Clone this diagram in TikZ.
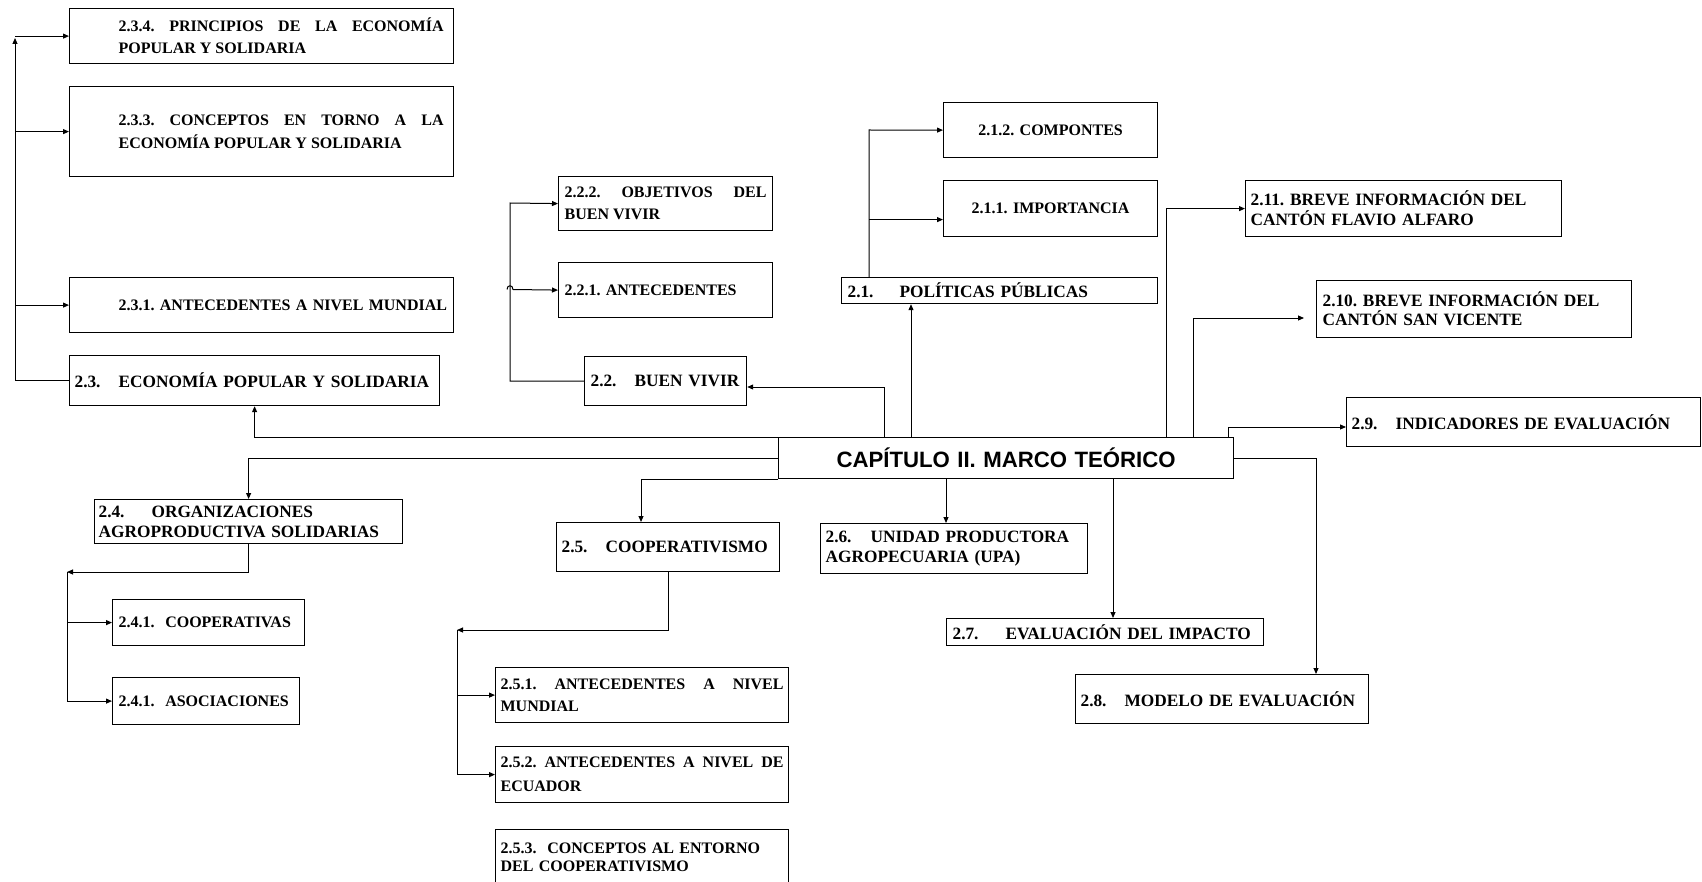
\documentclass[tikz,border=0pt]{standalone}
\usepackage{fontspec}
\setmainfont{Liberation Serif}
\newfontfamily\arialfont{Liberation Sans}
\usetikzlibrary{arrows.meta}
\frenchspacing
\hyphenpenalty=10000

\begin{document}
\begin{tikzpicture}[x=0.5pt,y=-0.5pt,
  box/.style={draw, line width=\lwidth, anchor=north west, inner ysep=0pt, inner xsep=2.5pt, align=left},
  headbox/.style={box, font=\bfseries\fontsize{8.65}{10}\selectfont},
  subbox/.style={box, font=\bfseries\fontsize{8}{#1}\selectfont},
  subbox/.default=11,
  conn/.style={line width=\cwidth, -{Triangle[length=3pt,width=2.5pt]}}]

  % sizes in px of the page, 1px = 0.5pt
  \def\lwidth{0.6pt}
  \def\cwidth{0.5pt}
  \def\tabnum#1#2{\makebox[#1][l]{#2}}
  \def\indented#1{\hspace*{19.5pt}\parbox{162.5pt}{\everypar{}\leftskip=0pt\rightskip=0pt\parfillskip=0pt plus 1fil\hyphenpenalty=10000\relax #1}}

  \useasboundingbox (0,0) rectangle (1702,882);
  \clip (0,0) rectangle (1702,882);

  % centre node
  \node[box, font=\arialfont\bfseries\fontsize{11.1}{13}\selectfont, align=center,
        minimum width=227.5pt, minimum height=20.5pt, text width=222.5pt] (mt) at (778,437) {CAPÍTULO II. MARCO TEÓRICO};

  % 2.3 block
  \node[subbox, inner xsep=5pt, text width=182pt, minimum height=27.5pt, align=justify] (s234) at (69,8)
    {\indented{2.3.4. PRINCIPIOS DE LA ECONOMÍA POPULAR Y SOLIDARIA}};
  \node[subbox=11.5, inner xsep=5pt, text width=182pt, minimum height=45pt, align=justify] (s233) at (69,86)
    {\indented{\baselineskip=11.5pt 2.3.3. CONCEPTOS EN TORNO A LA ECONOMÍA POPULAR Y SOLIDARIA}};
  \node[subbox, inner xsep=5pt, text width=182pt, minimum height=27.5pt] (s231) at (69,277)
    {\hspace*{19.5pt}\mbox{2.3.1. ANTECEDENTES A NIVEL MUNDIAL}};
  \node[headbox, text width=180pt, minimum height=25pt] (s23) at (69,355)
    {\tabnum{22pt}{2.3.}ECONOMÍA POPULAR Y SOLIDARIA};

  % 2.2 block
  \node[subbox, inner xsep=3pt, text width=101pt, minimum height=27pt, align=justify] (s222) at (558,176)
    {2.2.2. OBJETIVOS DEL BUEN VIVIR};
  \node[subbox, inner xsep=3pt, text width=101pt, minimum height=27.5pt] (s221) at (558,262)
    {2.2.1. ANTECEDENTES};
  \node[headbox, inner xsep=3pt, text width=75pt, minimum height=24.5pt] (s22) at (584,356)
    {\tabnum{22pt}{2.2.}BUEN VIVIR};

  % 2.1 block
  \node[subbox, inner xsep=3pt, text width=101pt, minimum height=27.5pt, align=center] (s212) at (943,102)
    {2.1.2. COMPONTES};
  \node[subbox, inner xsep=3pt, text width=101pt, minimum height=28pt, align=center] (s211) at (943,180)
    {2.1.1. IMPORTANCIA};
  \node[headbox, inner xsep=3pt, text width=152pt, minimum height=13pt] (s21) at (841,277)
    {\tabnum{26pt}{2.1.}POLÍTICAS PÚBLICAS};

  % right side
  \node[headbox, text width=153pt, minimum height=28pt] (sFA) at (1245,180)
    {2.11. BREVE INFORMACIÓN DEL\\CANTÓN FLAVIO ALFARO};
  \node[headbox, font=\bfseries\fontsize{8.65}{9.5}\selectfont, inner xsep=3pt, text width=151.5pt, minimum height=28.5pt] (sSV) at (1316,280)
    {2.10. BREVE INFORMACIÓN DEL\\CANTÓN SAN VICENTE};
  \node[headbox, text width=172pt, minimum height=24.5pt] (s29) at (1346,397)
    {\tabnum{22pt}{2.9.}INDICADORES DE EVALUACIÓN};

  % lower nodes
  \node[headbox, inner xsep=2pt, text width=150pt, minimum height=22pt] (s24) at (94,499)
    {\tabnum{26.5pt}{2.4.}ORGANIZACIONES\\AGROPRODUCTIVA SOLIDARIAS};
  \node[subbox, inner xsep=3pt, text width=90pt, minimum height=23pt] (s241) at (112,599)
    {2.4.1.\ \ COOPERATIVAS};
  \node[subbox, inner xsep=3pt, text width=87.5pt, minimum height=23.5pt] (s242) at (112,677)
    {2.4.1.\ \ ASOCIACIONES};

  \node[headbox, text width=106.5pt, minimum height=24.5pt] (s25) at (556,522)
    {\tabnum{22pt}{2.5.}COOPERATIVISMO};
  \node[subbox, text width=141.5pt, minimum height=27.5pt, align=justify] (s251) at (495,667)
    {2.5.1. ANTECEDENTES A NIVEL MUNDIAL};
  \node[subbox=12, text width=141.5pt, minimum height=28pt, align=justify] (s252) at (495,746)
    {2.5.2. ANTECEDENTES A NIVEL DE ECUADOR};
  \node[subbox=9, text width=141.5pt, minimum height=28pt] (s253) at (495,829)
    {2.5.3.\ \ CONCEPTOS AL ENTORNO\\DEL COOPERATIVISMO};

  \node[headbox, text width=128.5pt, minimum height=25pt] (s26) at (820,523)
    {\tabnum{22.5pt}{2.6.}UNIDAD PRODUCTORA\\AGROPECUARIA (UPA)};
  \node[headbox, inner xsep=3pt, text width=152.5pt, minimum height=13.5pt] (s27) at (946,618)
    {\tabnum{26.5pt}{2.7.}EVALUACIÓN DEL IMPACTO};
  \node[headbox, text width=141.5pt, minimum height=24.5pt] (s28) at (1075,674)
    {\tabnum{22pt}{2.8.}MODELO DE EVALUACIÓN};

  % bend points
  \coordinate (k21) at (911,0);
  \coordinate (k22) at (884,387);
  \coordinate (kFA) at (1166,208);
  \coordinate (kSV) at (1193,318);
  \coordinate (k29) at (1228,427);
  \coordinate (k25) at (641,0);
  \coordinate (k26) at (946,0);
  \coordinate (k27) at (1113,0);
  \coordinate (k28) at (1316,0);

  % from the centre
  \draw[conn] (mt.north -| k21) -- (s21.south -| k21);
  \draw[conn] (mt.north -| k22) -- (k22) -- (s22.east |- k22);
  \draw[conn] (mt.north -| kFA) |- (sFA.west);
  \draw[conn, shorten >=6pt] (mt.north -| kSV) -- (kSV) -- (sSV.west |- kSV);
  \draw[conn] (mt.north -| k29) -- (k29) -- (s29.west |- k29);
  \draw[conn] (mt.north west) -| (s23.south);
  \draw[conn] (mt.west) -| (s24.north);
  \draw[conn] (mt.south west) -| (k25 |- s25.north);
  \draw[conn] (mt.south -| k26) -- (s26.north -| k26);
  \draw[conn] (mt.south -| k27) -- (s27.north -| k27);
  \draw[conn] (mt.east) -| (k28 |- s28.north);

  % branch 2.3
  \coordinate (j23) at (15,38);
  \draw[conn] (s23.west) -| (j23);
  \foreach \n in {s234,s233,s231}
    \draw[conn] (j23 |- \n.west) -- (\n.west);

  % branch 2.2
  \coordinate (j22) at (510,203);
  \coordinate (h22) at (507,289.5);
  \draw[conn] (s22.west) -| (j22) -- (s222.west);
  \draw[conn] (h22) .. controls +(0,-5) and +(0,-5) .. ++(6,0) -- (s221.west);

  % branch 2.1
  \coordinate (j21) at (869,130);
  \coordinate (a211) at ([yshift=-5.5pt]s211.west);
  \draw[conn] (j21 |- s21.north) -- (j21) -- (s212.west);
  \draw[conn] (j21 |- a211) -- (a211);

  % branch 2.4
  \coordinate (j24) at (67,572);
  \draw[conn] (s24.south) |- (j24);
  \draw[conn] (j24) |- (s241.west);
  \draw[conn] (j24) |- (s242.west);

  % branch 2.5
  \coordinate (j25) at (457,630);
  \draw[conn] (s25.south) |- (j25);
  \draw[conn] (j25) |- (s251.west);
  \draw[conn] (j25) |- (s252.west);

\end{tikzpicture}
\end{document}
